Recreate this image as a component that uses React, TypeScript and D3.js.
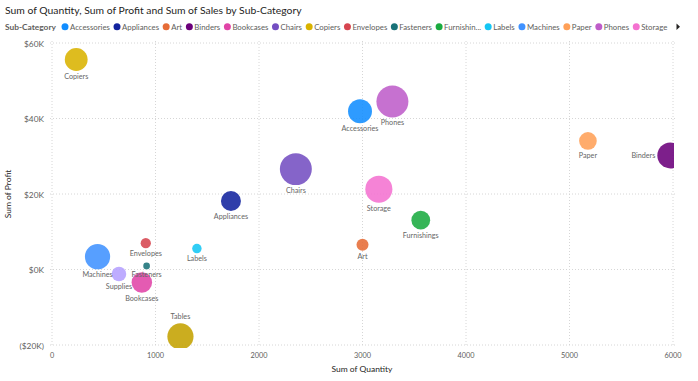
import React from "react";
import * as d3 from "d3";

const categories = ["Accessories","Appliances","Art","Binders","Bookcases","Chairs","Copiers","Envelopes","Fasteners","Furnishings","Labels","Machines","Paper","Phones","Storage","Supplies","Tables"];
const legendLabels = ["Accessories","Appliances","Art","Binders","Bookcases","Chairs","Copiers","Envelopes","Fasteners","Furnishin...","Labels","Machines","Paper","Phones","Storage"];
const quantity = [2976,1729,3000,5974,868,2356,234,906,914,3563,1400,440,5178,3289,3158,647,1241];
const profit = [41937,18138,6528,30222,-3473,26590,55618,6964,950,13059,5546,3385,34054,44516,21279,-1189,-17725];
const sales = [167380,107532,27119,203413,114880,328449,149528,16476,3024,91705,12486,189239,78479,330007,223844,46674,206966];
const colors = ["#118DFF","#12239E","#E66C37","#6B007B","#E044A7","#744EC2","#D9B300","#D64550","#197278","#1AAB40","#15C6F4","#4092FF","#FFA058","#BE5DC9","#F472D0","#B5A1FF","#C4A200"];
const xTicks = [0,1000,2000,3000,4000,5000,6000];
const yTicks = [-20000,0,20000,40000,60000];
const title = "Sum of Quantity, Sum of Profit and Sum of Sales by Sub-Category";

const W = 698, H = 381;
const FONT = "Lato, 'Noto Sans', sans-serif";

let probe: SVGTextElement | null = null;
function measure(text: string, size: number, weight = "normal") {
  if (!probe) {
    const svg = document.createElementNS("http://www.w3.org/2000/svg", "svg");
    svg.setAttribute("width", "0");
    svg.setAttribute("height", "0");
    svg.style.position = "absolute";
    svg.style.visibility = "hidden";
    probe = document.createElementNS("http://www.w3.org/2000/svg", "text");
    svg.appendChild(probe);
    document.body.appendChild(svg);
  }
  probe.setAttribute("font-family", FONT);
  probe.setAttribute("font-size", String(size));
  probe.setAttribute("font-weight", weight);
  probe.textContent = text;
  return probe.getComputedTextLength();
}
function fit(text: string, width: number, weight = "normal") {
  return (10 * width) / measure(text, 10, weight);
}

export default function App() {
  const left = 52, right = 673, top = 43, bottom = 345;
  const x = d3.scaleLinear().domain([0, 6000]).range([left, right]);
  const y = d3.scaleLinear().domain([-20000, 60000]).range([bottom, top]);
  const r = d3.scaleSqrt().domain([0, d3.max(sales)!]).range([2, 16]);
  const fmtY = (v: number) => v < 0 ? `($${Math.abs(v) / 1000}K)` : `$${v / 1000}K`;

  const titleSize = fit(title, 297);
  const headSize = fit("Sub-Category", 51, "bold");
  const legSize = fit("Accessories", 40);
  const yTickSize = fit("$60K", 20);
  const xTickSize = fit("3000", 17);
  const axTitleSize = fit("Sum of Quantity", 61);
  const labSize = fit("Accessories", 37);

  const natural: { label: string; color: string; cx: number; end: number }[] = [];
  let lx = 0;
  legendLabels.forEach((label, i) => {
    const w = measure(label, legSize);
    natural.push({ label, color: colors[i], cx: lx, end: lx + 5 + w });
    lx = lx + 5 + w + 7.5;
  });
  const natEnd = natural[natural.length - 1].end;
  const lmap = d3.scaleLinear().domain([0, natEnd]).range([65, 667]);
  const legendItems = natural.map((d) => ({ ...d, cx: lmap(d.cx) }));

  const pts = categories.map((c, i) => {
    const cx = x(quantity[i]), cy = y(profit[i]), rr = r(sales[i]);
    const tw = measure(c, labSize);
    let lxp = cx, lyp = cy + rr + 8, anchor = "middle";
    if (cy + rr + 10 > bottom) { lyp = cy - rr - 4; }
    if (cx + tw / 2 > right) { lxp = cx - rr - 2; lyp = cy + 3; anchor = "end"; }
    return { c, cx, cy, rr, color: colors[i], lxp, lyp, anchor };
  });

  return (
    <svg width={W} height={H} style={{ position: "absolute", left: 0, top: 0, background: "#fff", fontFamily: FONT }}>
      <defs>
        <clipPath id="plotclip"><rect x={left - 2} y={top - 20} width={right - left + 3} height={bottom - top + 23} /></clipPath>
      </defs>
      <text x={5} y={14} fontSize={titleSize} fill="#252423">{title}</text>
      <text x={5} y={29.5} fontSize={headSize} fontWeight="bold" fill="#605E5C">Sub-Category</text>
      {legendItems.map((d) => (
        <g key={d.label}>
          <circle cx={d.cx} cy={26.7} r={3.5} fill={d.color} />
          <text x={d.cx + 5} y={29.5} fontSize={legSize} fill="#605E5C">{d.label}</text>
        </g>
      ))}
      <path d="M676.5,23.5 L680,26.7 L676.5,30 Z" fill="#252423" />
      {yTicks.map((t) => (
        <g key={"y" + t}>
          <line x1={left - 2} x2={right + 2} y1={y(t)} y2={y(t)} stroke="#d6d6d6" strokeDasharray="1,2" />
          <text x={44} y={y(t) + 3.5} fontSize={yTickSize} textAnchor="end" fill="#605E5C">{fmtY(t)}</text>
        </g>
      ))}
      {xTicks.map((t) => (
        <g key={"x" + t}>
          <line x1={x(t)} x2={x(t)} y1={top - 2} y2={bottom} stroke="#d6d6d6" strokeDasharray="1,2" />
          <text x={x(t)} y={358} fontSize={xTickSize} textAnchor="middle" fill="#605E5C">{t}</text>
        </g>
      ))}
      <text x={362} y={372} fontSize={axTitleSize} textAnchor="middle" fill="#252423">Sum of Quantity</text>
      <text transform={`translate(11,194) rotate(-90)`} fontSize={axTitleSize} textAnchor="middle" fill="#252423">Sum of Profit</text>
      <g clipPath="url(#plotclip)">
        {pts.map((p) => (
          <circle key={p.c} cx={p.cx} cy={p.cy} r={p.rr} fill={p.color} fillOpacity={0.88} />
        ))}
      </g>
      {pts.map((p) => (
        <text key={"l" + p.c} x={p.lxp} y={p.lyp} fontSize={labSize} textAnchor={p.anchor as any} fill="#666">{p.c}</text>
      ))}
    </svg>
  );
}
